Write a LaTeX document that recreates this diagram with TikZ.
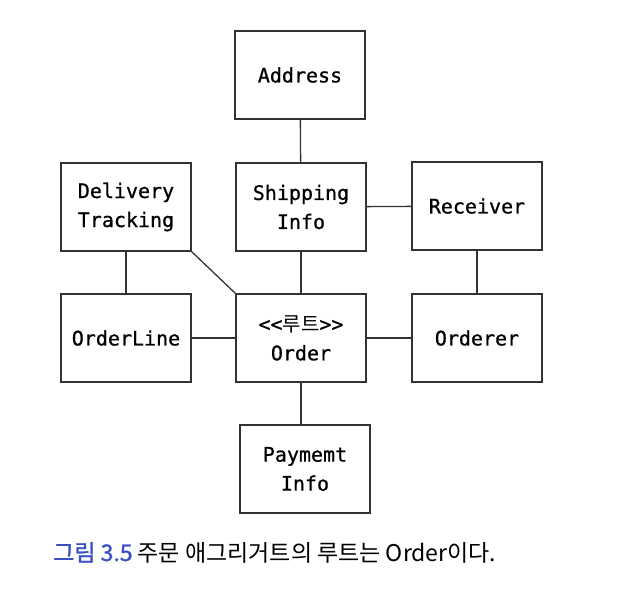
\documentclass[tikz,border=0pt]{standalone}
\usepackage{fontspec}
\setmonofont[FakeBold=0.8]{DejaVu Sans Mono}
\newfontfamily\kofont{Noto Sans CJK KR}
\newfontfamily\kofontbold[FakeBold=1.2]{Noto Sans CJK KR}
\usepackage{tikz}
\usetikzlibrary{positioning}
\definecolor{linegray}{HTML}{333333}
\definecolor{figblue}{HTML}{3A4FC4}

\begin{document}
\begin{tikzpicture}[x=1pt,y=-1pt,
    entity/.style={draw=linegray,line width=1.3pt,minimum width=130pt,minimum height=88pt,
      inner sep=0pt,align=center,font=\ttfamily\fontsize{20}{29}\selectfont},
    link/.style={draw=linegray,line width=1.3pt}]
            \useasboundingbox (0,0) rectangle (630,604);
            % grid of boxes
            \node[entity] (address)  at (300,75)  {Address};
            \node[entity] (delivery) at (126,207) {Delivery\\Tracking};
            \node[entity] (shipping) at (301,207) {Shipping\\Info};
            \node[entity] (receiver) at (477,206) {Receiver};
            \node[entity] (orderline) at (126,338) {OrderLine};
            \node[entity] (order)    at (301,338) {<{}<{\kofont 루트}>{}>\\Order};
            \node[entity] (orderer)  at (477,338) {Orderer};
            \node[entity] (payment)  at (305,469) {Paymemt\\Info};
            % connectors
            \draw[link] (address) -- (shipping);
            \draw[link] (shipping) -- (receiver);
            \draw[link] (delivery) -- (orderline);
            \draw[link] (delivery.south east) -- (order.north west);
            \draw[link] (shipping) -- (order);
            \draw[link] (receiver) -- (orderer);
            \draw[link] (orderline) -- (order);
            \draw[link] (order) -- (orderer);
            \draw[link] (order.south) -- (order.south |- payment.north);
            % caption
            \node[anchor=base west,inner sep=0pt,font=\kofont\fontsize{23}{27}\selectfont] (caption) at (53,561)
              {\textcolor{figblue}{\kofontbold 그림 3.5} 주문 애그리거트의 루트는 Order이다.};
        \end{tikzpicture}
\end{document}
